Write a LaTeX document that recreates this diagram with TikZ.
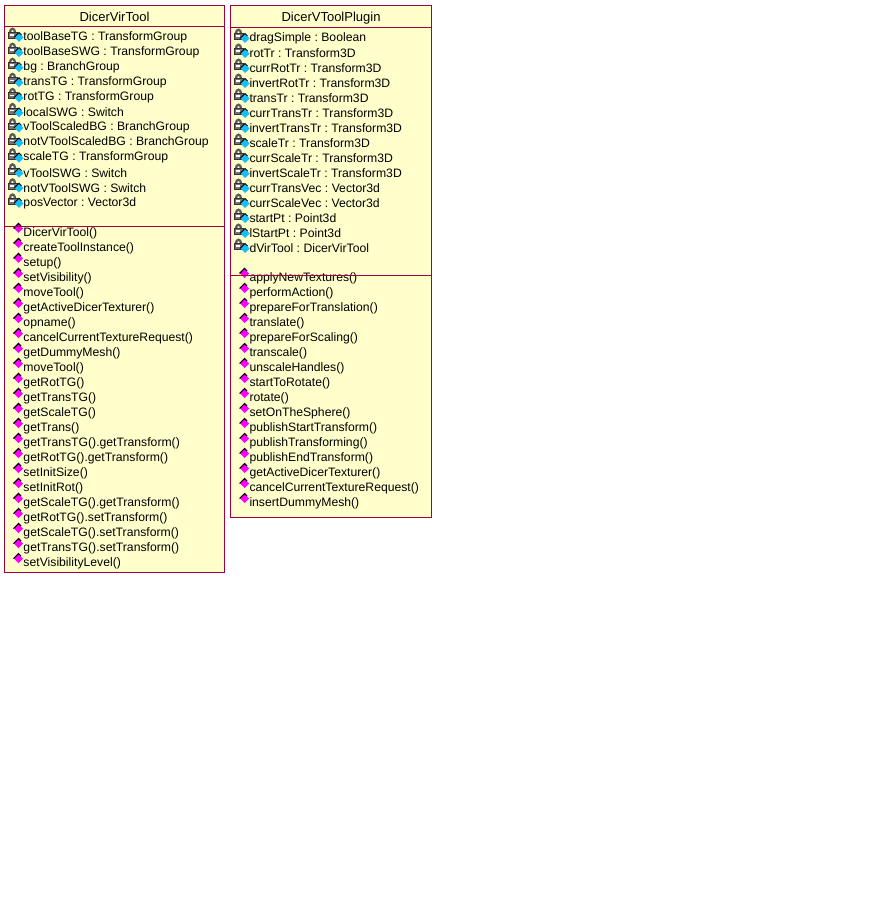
\documentclass[tikz,border=0pt]{standalone}
\usepackage{fontspec}
\setmainfont{Liberation Sans}
\frenchspacing
\definecolor{classfill}{RGB}{255,255,204}
\definecolor{classline}{RGB}{160,0,64}
\definecolor{attrblue}{RGB}{20,190,250}
\definecolor{operpink}{RGB}{255,0,255}
\tikzset{every picture/.style={line width=0.75pt}}
\tikzset{
  classbox/.style={draw=classline,fill=classfill,line width=0.75pt},
  classline/.style={draw=classline,line width=0.75pt},
  classtitle/.style={inner sep=0pt,font=\fontsize{9.75pt}{10pt}\selectfont},
  member/.style={anchor=west,inner sep=0pt,yshift=-0.5pt,font=\fontsize{9.15pt}{10pt}\selectfont},
  % pics are y-up here, the picture's yscale does not reach them
  attricon/.pic={
    % lock
    \draw [black!65,line width=1.7pt] (-13,4) .. controls (-13,9) and (-8,9) .. (-8,4) ;
    \draw [black!80,fill=black!55,line width=0.5pt] (-15,4) rectangle (-6,-2) ;
    \fill [white] (-13.5,2.2) rectangle (-9.5,0.6) ;
    % diamond
    \fill [attrblue] (-8.5,-1) -- (-4,3.5) -- (0.5,-1) -- (-4,-5.5) -- cycle ;
    \draw [black,line width=0.6pt] (-9,-1) -- (-4,4) -- (-1.5,1.5) ;
  },
  opericon/.pic={
    \fill [operpink] (-9,4) -- (-4.5,8.5) -- (0,4) -- (-4.5,-0.5) -- cycle ;
    \draw [black,line width=0.8pt] (-9.5,4) -- (-4.5,9) -- (-2,6.5) ;
  },
}

\begin{document}
\begin{tikzpicture}[x=0.75pt,y=0.75pt,yscale=-1,xscale=1]
\useasboundingbox (0,0) rectangle (872,923);

% left class
\draw [classbox] (4.5,5.5) rectangle (224.5,572.5) ;
\node [classtitle] (virtitle) at (114.5,17) {DicerVirTool};
\coordinate (virheadl) at (4.5,26.5);
\coordinate (virheadr) at (224.5,26.5);
\draw [classline] (virheadl) -- (virheadr) ;

\foreach \name [count=\i from 0] in {toolBaseTG : TransformGroup,toolBaseSWG : TransformGroup,bg : BranchGroup,transTG : TransformGroup,rotTG : TransformGroup,localSWG : Switch,vToolScaledBG : BranchGroup,notVToolScaledBG : BranchGroup,scaleTG : TransformGroup,vToolSWG : Switch,notVToolSWG : Switch,posVector : Vector3d}
{
  \node [member] (virattr\i) at (23,36.5+15.07*\i) {\name};
  \pic at (23,36.5+15.07*\i) {attricon};
}

\foreach \name [count=\i from 0] in {DicerVirTool(),createToolInstance(),setup(),setVisibility(),moveTool(),getActiveDicerTexturer(),opname(),cancelCurrentTextureRequest(),getDummyMesh(),moveTool(),getRotTG(),getTransTG(),getScaleTG(),getTrans(),getTransTG().getTransform(),getRotTG().getTransform(),setInitSize(),setInitRot(),getScaleTG().getTransform(),getRotTG().setTransform(),getScaleTG().setTransform(),getTransTG().setTransform(),setVisibilityLevel()}
{
  \node [member] (viroper\i) at (23,232.5+15*\i) {\name};
  \pic at (23,232.5+15*\i) {opericon};
}

\coordinate (virdivl) at (4.5,226.5);
\coordinate (virdivr) at (224.5,226.5);
\draw [classline] (virdivl) -- (virdivr) ;

% right class
\draw [classbox] (230.5,5.5) rectangle (431.5,517.5) ;
\node [classtitle] (plugtitle) at (331,18) {DicerVToolPlugin};
\coordinate (plugheadl) at (230.5,27.5);
\coordinate (plugheadr) at (431.5,27.5);
\draw [classline] (plugheadl) -- (plugheadr) ;

\foreach \name [count=\i from 0] in {dragSimple : Boolean,rotTr : Transform3D,currRotTr : Transform3D,invertRotTr : Transform3D,transTr : Transform3D,currTransTr : Transform3D,invertTransTr : Transform3D,scaleTr : Transform3D,currScaleTr : Transform3D,invertScaleTr : Transform3D,currTransVec : Vector3d,currScaleVec : Vector3d,startPt : Point3d,lStartPt : Point3d,dVirTool : DicerVirTool}
{
  \node [member] (plugattr\i) at (249,37.5+15*\i) {\name};
  \pic at (249,37.5+15*\i) {attricon};
}

\foreach \name [count=\i from 0] in {applyNewTextures(),performAction(),prepareForTranslation(),translate(),prepareForScaling(),transcale(),unscaleHandles(),startToRotate(),rotate(),setOnTheSphere(),publishStartTransform(),publishTransforming(),publishEndTransform(),getActiveDicerTexturer(),cancelCurrentTextureRequest(),insertDummyMesh()}
{
  \node [member] (plugoper\i) at (249,277.5+15*\i) {\name};
  \pic at (249,277.5+15*\i) {opericon};
}

\coordinate (plugdivl) at (230.5,275.5);
\coordinate (plugdivr) at (431.5,275.5);
\draw [classline] (plugdivl) -- (plugdivr) ;

\end{tikzpicture}
\end{document}
